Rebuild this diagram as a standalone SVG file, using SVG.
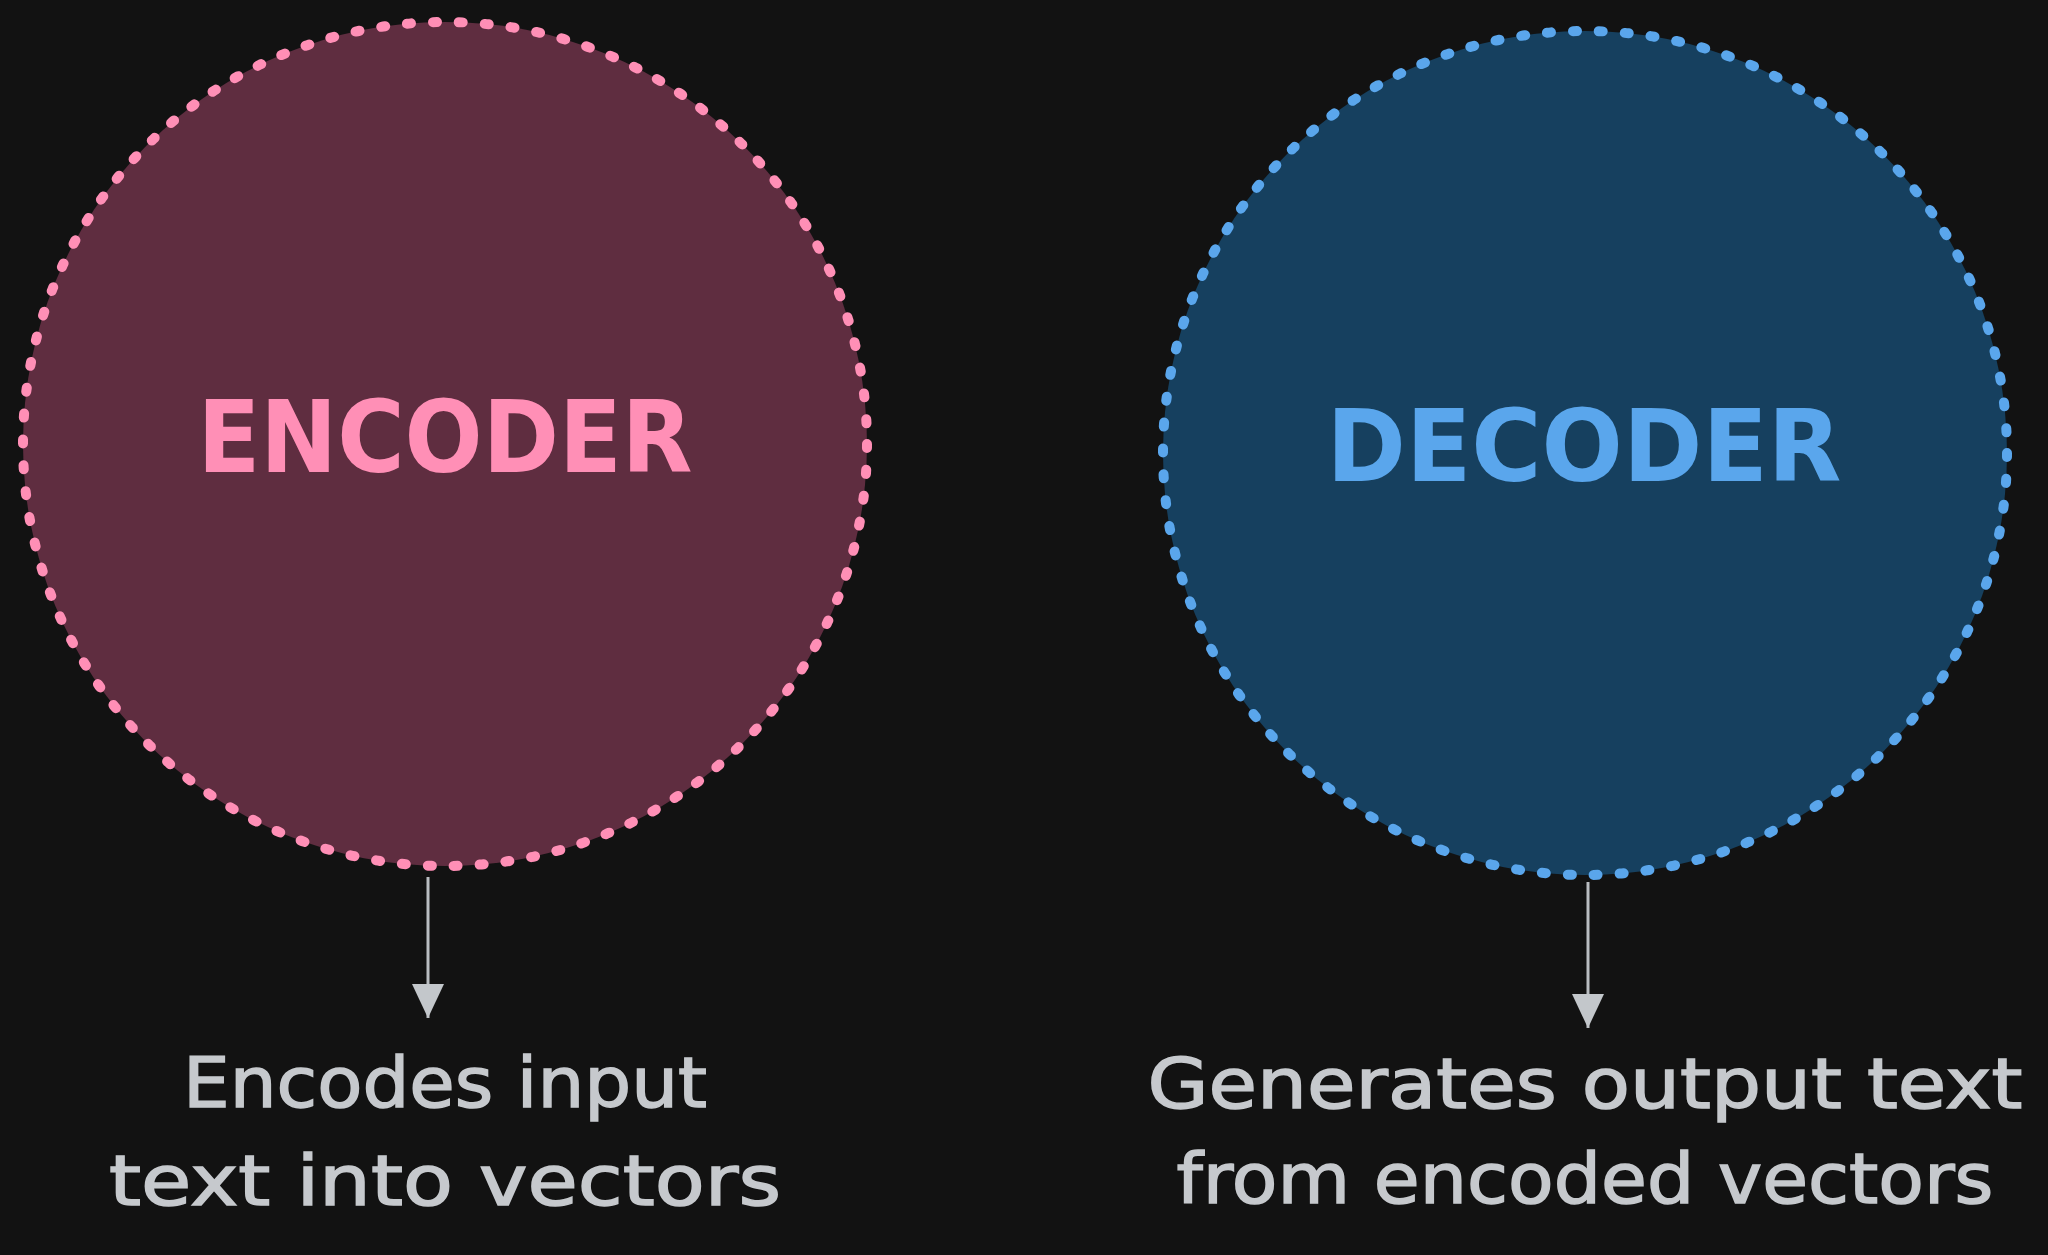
<svg xmlns="http://www.w3.org/2000/svg" width="2048" height="1255" viewBox="0 0 2048 1255">
  <style>
    .ring { stroke-width: 10; stroke-dasharray: 4 22; stroke-linecap: round; }
    .title { font-family: "DejaVu Sans", "Liberation Sans", sans-serif; font-size: 100px; font-weight: bold; text-anchor: middle; }
    .label { font-family: "DejaVu Sans", "Liberation Sans", sans-serif; font-size: 70px; fill: #c6c9cd; stroke: #c6c9cd; stroke-width: 1.5; text-anchor: middle; }
    .conn { stroke: #b9bdc1; stroke-width: 3; fill: none; }
  </style>
  <defs>
    <marker id="arrow" viewBox="0 0 34 32" refX="34" refY="16" markerWidth="34" markerHeight="32" markerUnits="userSpaceOnUse" orient="auto">
      <path d="M0 0 L34 16 L0 32 Z" fill="#c3c7cb"/>
    </marker>
  </defs>
  <rect x="0" y="0" width="2048" height="1255" fill="#121212"/>

  <g id="encoder">
    <circle class="ring" cx="445" cy="444" r="422" fill="#5f2d40" stroke="#ff8fb6"/>
    <text class="title" x="445" y="472" fill="#ff8fb6" textLength="495" lengthAdjust="spacingAndGlyphs">ENCODER</text>
  </g>

  <g id="decoder">
    <circle class="ring" cx="1585" cy="453" r="422" fill="#16405f" stroke="#5aa6ec"/>
    <text class="title" x="1584" y="481" fill="#5aa6ec" textLength="515" lengthAdjust="spacingAndGlyphs">DECODER</text>
  </g>

  <g id="encoder-label">
    <text class="label" x="445" y="1107" textLength="524" lengthAdjust="spacingAndGlyphs">Encodes input</text>
    <text class="label" x="445" y="1205" textLength="672" lengthAdjust="spacingAndGlyphs">text into vectors</text>
  </g>

  <g id="decoder-label">
    <text class="label" x="1585" y="1108" textLength="875" lengthAdjust="spacingAndGlyphs">Generates output text</text>
    <text class="label" x="1585" y="1203" textLength="817" lengthAdjust="spacingAndGlyphs">from encoded vectors</text>
  </g>

  <g id="connectors">
    <line class="conn" x1="428" y1="877" x2="428" y2="1018" marker-end="url(#arrow)"/>
    <line class="conn" x1="1588" y1="882" x2="1588" y2="1028" marker-end="url(#arrow)"/>
  </g>
</svg>
